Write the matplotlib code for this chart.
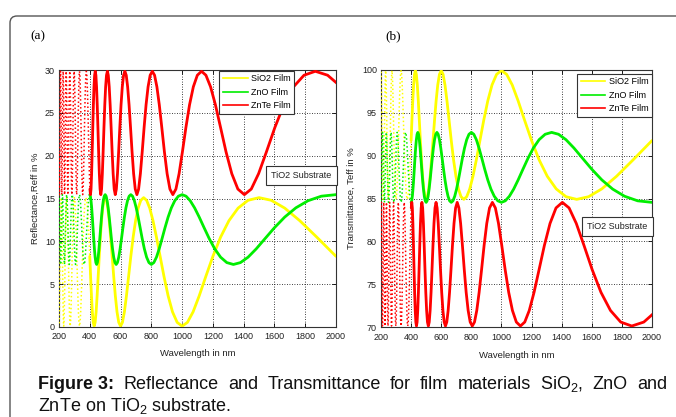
import numpy as np
import matplotlib
matplotlib.use("Agg")
import matplotlib.pyplot as plt
from matplotlib.lines import Line2D
from matplotlib.patches import FancyBboxPatch

# ---------------- data ----------------
# wavenumber samples in 1/um (wavelength_nm = 1000 / wavenumber)
znte_nu = [
    0.492, 0.514, 0.536, 0.558, 0.580, 0.602, 0.624, 0.646, 0.668, 0.690, 0.712, 0.734, 0.756, 0.778, 0.800, 0.822,
    0.844, 0.866, 0.888, 0.910, 0.932, 0.954, 0.976, 0.998, 1.020, 1.042, 1.064, 1.086, 1.108, 1.130, 1.152, 1.174,
    1.196, 1.218, 1.240, 1.262, 1.284, 1.306, 1.328, 1.350, 1.372, 1.394, 1.416, 1.438, 1.460, 1.482, 1.504, 1.526,
    1.548, 1.570, 1.592, 1.614, 1.636, 1.658, 1.680, 1.702, 1.724, 1.746, 1.768, 1.790, 1.812, 1.834, 1.856, 1.878,
    1.900, 1.922, 1.944, 1.966, 1.988, 2.010, 2.032, 2.054, 2.076, 2.098, 2.120, 2.142, 2.164, 2.186, 2.208, 2.230,
    2.252, 2.274, 2.296, 2.318, 2.340, 2.362, 2.384, 2.406, 2.428, 2.450, 2.472, 2.494, 2.516, 2.538, 2.560, 2.582,
    2.604, 2.626, 2.648, 2.670, 2.692, 2.714, 2.736, 2.758, 2.780, 2.802, 2.824, 2.846, 2.868, 2.890, 2.912, 2.934,
    2.956, 2.978, 3.000, 3.022, 3.044, 3.066, 3.088, 3.110, 3.132, 3.154, 3.176, 3.198, 3.220, 3.242, 3.264, 3.286,
    3.308, 3.330, 3.352, 3.374, 3.396, 3.418, 3.440, 3.462, 3.484, 3.506, 3.528, 3.550, 3.572, 3.594, 3.616, 3.638,
    3.660, 3.682, 3.704, 3.726, 3.748, 3.770, 3.792, 3.814, 3.836, 3.858, 3.880, 3.902, 3.924, 3.946, 3.968, 3.990,
    4.012, 4.034, 4.056, 4.078, 4.100, 4.122, 4.144, 4.166, 4.188, 4.210, 4.232, 4.254, 4.276, 4.298, 4.320, 4.342,
    4.364, 4.386, 4.408, 4.430, 4.452, 4.474, 4.496, 4.518, 4.540, 4.562, 4.584, 4.606, 4.628, 4.650, 4.672, 4.694,
    4.716, 4.738, 4.760, 4.782, 4.804, 4.826, 4.848, 4.870, 4.892, 4.914, 4.936, 4.958, 4.980, 5.002,
]
znte_reff = [
    28.04, 29.39, 29.85, 29.39, 28.04, 25.93, 23.28, 20.45, 17.90, 16.10, 15.45, 16.10, 17.90, 20.45, 23.28, 25.93,
    28.04, 29.39, 29.85, 29.39, 28.04, 25.93, 23.28, 20.45, 17.90, 16.10, 15.45, 16.10, 17.90, 20.45, 23.28, 25.93,
    28.04, 29.39, 29.85, 29.39, 28.04, 25.93, 23.28, 20.45, 17.90, 16.10, 15.45, 16.10, 17.90, 20.45, 23.28, 25.93,
    28.04, 29.39, 29.85, 29.39, 28.04, 25.93, 23.28, 20.45, 17.90, 16.10, 15.45, 16.10, 17.90, 20.45, 23.28, 25.93,
    28.04, 29.39, 29.85, 29.39, 28.04, 25.93, 23.28, 20.45, 17.90, 16.10, 15.45, 16.10, 17.90, 20.45, 23.28, 25.93,
    28.04, 29.39, 29.85, 29.39, 28.04, 25.93, 23.28, 20.45, 17.90, 16.10, 15.45, 16.10, 17.90, 20.45, 23.28, 25.93,
    28.04, 29.39, 29.85, 29.39, 28.04, 25.93, 23.28, 20.45, 17.90, 16.10, 15.45, 16.10, 17.90, 20.45, 23.28, 25.93,
    28.04, 29.39, 29.85, 29.39, 28.04, 25.93, 23.28, 20.45, 17.90, 16.10, 15.45, 16.10, 17.90, 20.45, 23.28, 25.93,
    28.04, 29.39, 29.85, 29.39, 28.04, 25.93, 23.28, 20.45, 17.90, 16.10, 15.45, 16.10, 17.90, 20.45, 23.28, 25.93,
    28.04, 29.39, 29.85, 29.39, 28.04, 25.93, 23.28, 20.45, 17.90, 16.10, 15.45, 16.10, 17.90, 20.45, 23.28, 25.93,
    28.04, 29.39, 29.85, 29.39, 28.04, 25.93, 23.28, 20.45, 17.90, 16.10, 15.45, 16.10, 17.90, 20.45, 23.28, 25.93,
    28.04, 29.39, 29.85, 29.39, 28.04, 25.93, 23.28, 20.45, 17.90, 16.10, 15.45, 16.10, 17.90, 20.45, 23.28, 25.93,
    28.04, 29.39, 29.85, 29.39, 28.04, 25.93, 23.28, 20.45, 17.90, 16.10, 15.45, 16.10, 17.90, 20.45,
]
znte_teff = [
    71.96, 70.61, 70.15, 70.61, 71.96, 74.07, 76.72, 79.55, 82.10, 83.90, 84.55, 83.90, 82.10, 79.55, 76.72, 74.07,
    71.96, 70.61, 70.15, 70.61, 71.96, 74.07, 76.72, 79.55, 82.10, 83.90, 84.55, 83.90, 82.10, 79.55, 76.72, 74.07,
    71.96, 70.61, 70.15, 70.61, 71.96, 74.07, 76.72, 79.55, 82.10, 83.90, 84.55, 83.90, 82.10, 79.55, 76.72, 74.07,
    71.96, 70.61, 70.15, 70.61, 71.96, 74.07, 76.72, 79.55, 82.10, 83.90, 84.55, 83.90, 82.10, 79.55, 76.72, 74.07,
    71.96, 70.61, 70.15, 70.61, 71.96, 74.07, 76.72, 79.55, 82.10, 83.90, 84.55, 83.90, 82.10, 79.55, 76.72, 74.07,
    71.96, 70.61, 70.15, 70.61, 71.96, 74.07, 76.72, 79.55, 82.10, 83.90, 84.55, 83.90, 82.10, 79.55, 76.72, 74.07,
    71.96, 70.61, 70.15, 70.61, 71.96, 74.07, 76.72, 79.55, 82.10, 83.90, 84.55, 83.90, 82.10, 79.55, 76.72, 74.07,
    71.96, 70.61, 70.15, 70.61, 71.96, 74.07, 76.72, 79.55, 82.10, 83.90, 84.55, 83.90, 82.10, 79.55, 76.72, 74.07,
    71.96, 70.61, 70.15, 70.61, 71.96, 74.07, 76.72, 79.55, 82.10, 83.90, 84.55, 83.90, 82.10, 79.55, 76.72, 74.07,
    71.96, 70.61, 70.15, 70.61, 71.96, 74.07, 76.72, 79.55, 82.10, 83.90, 84.55, 83.90, 82.10, 79.55, 76.72, 74.07,
    71.96, 70.61, 70.15, 70.61, 71.96, 74.07, 76.72, 79.55, 82.10, 83.90, 84.55, 83.90, 82.10, 79.55, 76.72, 74.07,
    71.96, 70.61, 70.15, 70.61, 71.96, 74.07, 76.72, 79.55, 82.10, 83.90, 84.55, 83.90, 82.10, 79.55, 76.72, 74.07,
    71.96, 70.61, 70.15, 70.61, 71.96, 74.07, 76.72, 79.55, 82.10, 83.90, 84.55, 83.90, 82.10, 79.55,
]

zno_nu = [
    0.500, 0.525, 0.550, 0.575, 0.600, 0.625, 0.650, 0.675, 0.700, 0.725, 0.750, 0.775, 0.800, 0.825, 0.850, 0.875, 0.900, 0.925, 0.950, 0.975,
    1.000, 1.025, 1.050, 1.075, 1.100, 1.125, 1.150, 1.175, 1.200, 1.225, 1.250, 1.275, 1.300, 1.325, 1.350, 1.375, 1.400, 1.425, 1.450, 1.475,
    1.500, 1.525, 1.550, 1.575, 1.600, 1.625, 1.650, 1.675, 1.700, 1.725, 1.750, 1.775, 1.800, 1.825, 1.850, 1.875, 1.900, 1.925, 1.950, 1.975,
    2.000, 2.025, 2.050, 2.075, 2.100, 2.125, 2.150, 2.175, 2.200, 2.225, 2.250, 2.275, 2.300, 2.325, 2.350, 2.375, 2.400, 2.425, 2.450, 2.475,
    2.500, 2.525, 2.550, 2.575, 2.600, 2.625, 2.650, 2.675, 2.700, 2.725, 2.750, 2.775, 2.800, 2.825, 2.850, 2.875, 2.900, 2.925, 2.950, 2.975,
    3.000, 3.025, 3.050, 3.075, 3.100, 3.125, 3.150, 3.175, 3.200, 3.225, 3.250, 3.275, 3.300, 3.325, 3.350, 3.375, 3.400, 3.425, 3.450, 3.475,
    3.500, 3.525, 3.550, 3.575, 3.600, 3.625, 3.650, 3.675, 3.700, 3.725, 3.750, 3.775, 3.800, 3.825, 3.850, 3.875, 3.900, 3.925, 3.950, 3.975,
    4.000, 4.025, 4.050, 4.075, 4.100, 4.125, 4.150, 4.175, 4.200, 4.225, 4.250, 4.275, 4.300, 4.325, 4.350, 4.375, 4.400, 4.425, 4.450, 4.475,
    4.500, 4.525, 4.550, 4.575, 4.600, 4.625, 4.650, 4.675, 4.700, 4.725, 4.750, 4.775, 4.800, 4.825, 4.850, 4.875, 4.900, 4.925, 4.950, 4.975,
    5.000,
]
zno_reff = [
    15.45, 15.27, 14.74, 13.91, 12.83, 11.59, 10.31, 9.12, 8.15, 7.52, 7.30, 7.52, 8.15, 9.12, 10.31, 11.59, 12.83, 13.91, 14.74, 15.27,
    15.45, 15.27, 14.74, 13.91, 12.83, 11.59, 10.31, 9.12, 8.15, 7.52, 7.30, 7.52, 8.15, 9.12, 10.31, 11.59, 12.83, 13.91, 14.74, 15.27,
    15.45, 15.27, 14.74, 13.91, 12.83, 11.59, 10.31, 9.12, 8.15, 7.52, 7.30, 7.52, 8.15, 9.12, 10.31, 11.59, 12.83, 13.91, 14.74, 15.27,
    15.45, 15.27, 14.74, 13.91, 12.83, 11.59, 10.31, 9.12, 8.15, 7.52, 7.30, 7.52, 8.15, 9.12, 10.31, 11.59, 12.83, 13.91, 14.74, 15.27,
    15.45, 15.27, 14.74, 13.91, 12.83, 11.59, 10.31, 9.12, 8.15, 7.52, 7.30, 7.52, 8.15, 9.12, 10.31, 11.59, 12.83, 13.91, 14.74, 15.27,
    15.45, 15.27, 14.74, 13.91, 12.83, 11.59, 10.31, 9.12, 8.15, 7.52, 7.30, 7.52, 8.15, 9.12, 10.31, 11.59, 12.83, 13.91, 14.74, 15.27,
    15.45, 15.27, 14.74, 13.91, 12.83, 11.59, 10.31, 9.12, 8.15, 7.52, 7.30, 7.52, 8.15, 9.12, 10.31, 11.59, 12.83, 13.91, 14.74, 15.27,
    15.45, 15.27, 14.74, 13.91, 12.83, 11.59, 10.31, 9.12, 8.15, 7.52, 7.30, 7.52, 8.15, 9.12, 10.31, 11.59, 12.83, 13.91, 14.74, 15.27,
    15.45, 15.27, 14.74, 13.91, 12.83, 11.59, 10.31, 9.12, 8.15, 7.52, 7.30, 7.52, 8.15, 9.12, 10.31, 11.59, 12.83, 13.91, 14.74, 15.27,
    15.45,
]
zno_teff = [
    84.55, 84.73, 85.26, 86.09, 87.17, 88.41, 89.69, 90.88, 91.85, 92.48, 92.70, 92.48, 91.85, 90.88, 89.69, 88.41, 87.17, 86.09, 85.26, 84.73,
    84.55, 84.73, 85.26, 86.09, 87.17, 88.41, 89.69, 90.88, 91.85, 92.48, 92.70, 92.48, 91.85, 90.88, 89.69, 88.41, 87.17, 86.09, 85.26, 84.73,
    84.55, 84.73, 85.26, 86.09, 87.17, 88.41, 89.69, 90.88, 91.85, 92.48, 92.70, 92.48, 91.85, 90.88, 89.69, 88.41, 87.17, 86.09, 85.26, 84.73,
    84.55, 84.73, 85.26, 86.09, 87.17, 88.41, 89.69, 90.88, 91.85, 92.48, 92.70, 92.48, 91.85, 90.88, 89.69, 88.41, 87.17, 86.09, 85.26, 84.73,
    84.55, 84.73, 85.26, 86.09, 87.17, 88.41, 89.69, 90.88, 91.85, 92.48, 92.70, 92.48, 91.85, 90.88, 89.69, 88.41, 87.17, 86.09, 85.26, 84.73,
    84.55, 84.73, 85.26, 86.09, 87.17, 88.41, 89.69, 90.88, 91.85, 92.48, 92.70, 92.48, 91.85, 90.88, 89.69, 88.41, 87.17, 86.09, 85.26, 84.73,
    84.55, 84.73, 85.26, 86.09, 87.17, 88.41, 89.69, 90.88, 91.85, 92.48, 92.70, 92.48, 91.85, 90.88, 89.69, 88.41, 87.17, 86.09, 85.26, 84.73,
    84.55, 84.73, 85.26, 86.09, 87.17, 88.41, 89.69, 90.88, 91.85, 92.48, 92.70, 92.48, 91.85, 90.88, 89.69, 88.41, 87.17, 86.09, 85.26, 84.73,
    84.55, 84.73, 85.26, 86.09, 87.17, 88.41, 89.69, 90.88, 91.85, 92.48, 92.70, 92.48, 91.85, 90.88, 89.69, 88.41, 87.17, 86.09, 85.26, 84.73,
    84.55,
]

sio2_nu = [
    0.5000, 0.5333, 0.5667, 0.6000, 0.6333, 0.6667, 0.7000, 0.7333, 0.7667, 0.8000, 0.8333, 0.8667, 0.9000, 0.9333, 0.9667, 1.0000, 1.0333, 1.0667, 1.1000, 1.1333,
    1.1667, 1.2000, 1.2333, 1.2667, 1.3000, 1.3333, 1.3667, 1.4000, 1.4333, 1.4667, 1.5000, 1.5333, 1.5667, 1.6000, 1.6333, 1.6667, 1.7000, 1.7333, 1.7667, 1.8000,
    1.8333, 1.8667, 1.9000, 1.9333, 1.9667, 2.0000, 2.0333, 2.0667, 2.1000, 2.1333, 2.1667, 2.2000, 2.2333, 2.2667, 2.3000, 2.3333, 2.3667, 2.4000, 2.4333, 2.4667,
    2.5000, 2.5333, 2.5667, 2.6000, 2.6333, 2.6667, 2.7000, 2.7333, 2.7667, 2.8000, 2.8333, 2.8667, 2.9000, 2.9333, 2.9667, 3.0000, 3.0333, 3.0667, 3.1000, 3.1333,
    3.1667, 3.2000, 3.2333, 3.2667, 3.3000, 3.3333, 3.3667, 3.4000, 3.4333, 3.4667, 3.5000, 3.5333, 3.5667, 3.6000, 3.6333, 3.6667, 3.7000, 3.7333, 3.7667, 3.8000,
    3.8333, 3.8667, 3.9000, 3.9333, 3.9667, 4.0000, 4.0333, 4.0667, 4.1000, 4.1333, 4.1667, 4.2000, 4.2333, 4.2667, 4.3000, 4.3333, 4.3667, 4.4000, 4.4333, 4.4667,
    4.5000, 4.5333, 4.5667, 4.6000, 4.6333, 4.6667, 4.7000, 4.7333, 4.7667, 4.8000, 4.8333, 4.8667, 4.9000, 4.9333, 4.9667, 5.0000,
]
sio2_reff = [
    8.25, 10.49, 12.41, 13.88, 14.79, 15.10, 14.79, 13.88, 12.41, 10.49, 8.25, 5.89, 3.64, 1.77, 0.54, 0.10, 0.54, 1.77, 3.64, 5.89,
    8.25, 10.49, 12.41, 13.88, 14.79, 15.10, 14.79, 13.88, 12.41, 10.49, 8.25, 5.89, 3.64, 1.77, 0.54, 0.10, 0.54, 1.77, 3.64, 5.89,
    8.25, 10.49, 12.41, 13.88, 14.79, 15.10, 14.79, 13.88, 12.41, 10.49, 8.25, 5.89, 3.64, 1.77, 0.54, 0.10, 0.54, 1.77, 3.64, 5.89,
    8.25, 10.49, 12.41, 13.88, 14.79, 15.10, 14.79, 13.88, 12.41, 10.49, 8.25, 5.89, 3.64, 1.77, 0.54, 0.10, 0.54, 1.77, 3.64, 5.89,
    8.25, 10.49, 12.41, 13.88, 14.79, 15.10, 14.79, 13.88, 12.41, 10.49, 8.25, 5.89, 3.64, 1.77, 0.54, 0.10, 0.54, 1.77, 3.64, 5.89,
    8.25, 10.49, 12.41, 13.88, 14.79, 15.10, 14.79, 13.88, 12.41, 10.49, 8.25, 5.89, 3.64, 1.77, 0.54, 0.10, 0.54, 1.77, 3.64, 5.89,
    8.25, 10.49, 12.41, 13.88, 14.79, 15.10, 14.79, 13.88, 12.41, 10.49, 8.25, 5.89, 3.64, 1.77, 0.54, 0.10,
]
sio2_teff = [
    91.75, 89.51, 87.59, 86.12, 85.21, 84.90, 85.21, 86.12, 87.59, 89.51, 91.75, 94.11, 96.36, 98.23, 99.46, 99.90, 99.46, 98.23, 96.36, 94.11,
    91.75, 89.51, 87.59, 86.12, 85.21, 84.90, 85.21, 86.12, 87.59, 89.51, 91.75, 94.11, 96.36, 98.23, 99.46, 99.90, 99.46, 98.23, 96.36, 94.11,
    91.75, 89.51, 87.59, 86.12, 85.21, 84.90, 85.21, 86.12, 87.59, 89.51, 91.75, 94.11, 96.36, 98.23, 99.46, 99.90, 99.46, 98.23, 96.36, 94.11,
    91.75, 89.51, 87.59, 86.12, 85.21, 84.90, 85.21, 86.12, 87.59, 89.51, 91.75, 94.11, 96.36, 98.23, 99.46, 99.90, 99.46, 98.23, 96.36, 94.11,
    91.75, 89.51, 87.59, 86.12, 85.21, 84.90, 85.21, 86.12, 87.59, 89.51, 91.75, 94.11, 96.36, 98.23, 99.46, 99.90, 99.46, 98.23, 96.36, 94.11,
    91.75, 89.51, 87.59, 86.12, 85.21, 84.90, 85.21, 86.12, 87.59, 89.51, 91.75, 94.11, 96.36, 98.23, 99.46, 99.90, 99.46, 98.23, 96.36, 94.11,
    91.75, 89.51, 87.59, 86.12, 85.21, 84.90, 85.21, 86.12, 87.59, 89.51, 91.75, 94.11, 96.36, 98.23, 99.46, 99.90,
]

film_names = ["SiO2 Film", "ZnO Film", "ZnTe Film"]
film_colors = ["#ffff00", "#00ee00", "#ff0000"]
x_ticks = [200, 400, 600, 800, 1000, 1200, 1400, 1600, 1800, 2000]
refl_ticks = [0, 5, 10, 15, 20, 25, 30]
trans_ticks = [70, 75, 80, 85, 90, 95, 100]
substrate_label = "TiO2 Substrate"
caption_line1 = ["Reflectance", "and", "Transmittance", "for", "film", "materials",
                 "SiO$_2$,", "ZnO", "and"]
caption_line2 = "ZnTe on TiO$_2$ substrate."

# ---------------- styling ----------------
plt.rcParams["font.family"] = ["Liberation Sans Narrow", "Liberation Sans", "DejaVu Sans"]
plt.rcParams["mathtext.fontset"] = "custom"
plt.rcParams["mathtext.rm"] = "Liberation Sans"
plt.rcParams["mathtext.bf"] = "Liberation Sans:bold"

fig = plt.figure(figsize=(6.76, 4.17), dpi=100)
W, H = 676.0, 417.0

ax_a = fig.add_axes([59 / W, (H - 327) / H, 277 / W, 257 / H])
ax_b = fig.add_axes([381 / W, (H - 327.3) / H, 271 / W, 257.6 / H])

series_r = [(sio2_nu, sio2_reff), (zno_nu, zno_reff), (znte_nu, znte_reff)]
series_t = [(sio2_nu, sio2_teff), (zno_nu, zno_teff), (znte_nu, znte_teff)]


def draw(ax, series):
    for (nu, val), col in zip(series, film_colors):
        nu = np.asarray(nu, dtype=float)
        val = np.asarray(val, dtype=float)
        wl = 1000.0 / nu
        solid = wl >= 400
        dense = wl < 430
        ax.plot(wl[dense], val[dense], color=col, lw=1.1, linestyle=(0, (1.0, 1.6)), zorder=3)
        ax.plot(wl[solid], val[solid], color=col, lw=2.0, solid_capstyle="round", zorder=3)


draw(ax_a, series_r)
draw(ax_b, series_t)

for ax, yt, ylab, ylx, xly in [
    (ax_a, refl_ticks, "Reflectance,Reff in %", -0.068, -0.085),
    (ax_b, trans_ticks, "Transmittance, Teff in %", -0.092, -0.092),
]:
    ax.set_xlim(200, 2000)
    ax.set_ylim(yt[0], yt[-1])
    ax.set_xticks(x_ticks)
    ax.set_yticks(yt)
    ax.grid(True, color="black", linestyle=(0, (1.0, 2.0)), linewidth=0.6)
    ax.set_axisbelow(True)
    ax.tick_params(direction="in", length=3, width=0.6, top=True, right=True,
                   labelsize=6.5, labelcolor="#222222")
    ax.tick_params(axis="x", pad=3.8)
    ax.tick_params(axis="y", pad=3.0)
    for sp in ax.spines.values():
        sp.set_linewidth(0.8)
        sp.set_color("#333333")
    ax.set_xlabel("Wavelength in nm", fontsize=6.8, color="#222222")
    ax.set_ylabel(ylab, fontsize=6.8, color="#222222")
    ax.yaxis.set_label_coords(ylx, 0.5)
    ax.xaxis.set_label_coords(0.5, xly)

handles = [Line2D([0], [0], color=c, lw=1.2) for c in film_colors]
for ax, anchor in [(ax_a, (0.578, 0.997)), (ax_b, (0.723, 0.984))]:
    leg = ax.legend(handles, film_names, loc="upper left", bbox_to_anchor=anchor,
                    fontsize=6.5, frameon=True, fancybox=False, framealpha=1,
                    edgecolor="#333333", borderpad=0.4, labelspacing=0.5,
                    handlelength=2.75, handletextpad=0.35, borderaxespad=0.0)
    leg.get_frame().set_linewidth(0.8)
    leg.set_zorder(5)

for ax, ypos in [(ax_a, 0.588), (ax_b, 0.391)]:
    ax.text(0.984, ypos, substrate_label, transform=ax.transAxes, ha="right", va="center",
            fontsize=6.5, color="#222222", zorder=6,
            bbox=dict(boxstyle="square,pad=0.55", fc="white", ec="#333333", lw=0.8))

# panel letters
fig.text(30 / W, 1 - 36 / H, "(a)", family="Liberation Serif", fontsize=9.5, va="center", ha="left")
fig.text(385 / W, 1 - 36 / H, "(b)", family="Liberation Serif", fontsize=9.5, va="center", ha="left")

# caption (justified first line)
cap_fs = 13.0
renderer = fig.canvas.get_renderer()
words = [fig.text(0, (H - 389) / H, "Figure 3:", family="Liberation Sans", weight="bold",
                  fontsize=cap_fs, ha="left", va="baseline", color="#111111")]
for wd in caption_line1:
    words.append(fig.text(0, (H - 389) / H, wd, family="Liberation Sans", fontsize=cap_fs,
                          ha="left", va="baseline", color="#111111"))
widths = [t.get_window_extent(renderer).width for t in words]
left_px, right_px = 38.0, 667.0
gap = (right_px - left_px - sum(widths)) / (len(words) - 1)
xpos = left_px
for t, w_ in zip(words, widths):
    t.set_x(xpos / W)
    xpos += w_ + gap
fig.text(38 / W, (H - 411) / H, caption_line2, family="Liberation Sans", fontsize=cap_fs,
         ha="left", va="baseline", color="#111111")

# page border (rounded top-left corner)
border = FancyBboxPatch((0.10, -0.4), 7.5, 4.41, boxstyle="round,pad=0,rounding_size=0.07",
                        transform=fig.dpi_scale_trans, fc="none", ec="#555555", lw=1.0)
fig.patches.append(border)

fig.savefig("out.png", dpi=100)
